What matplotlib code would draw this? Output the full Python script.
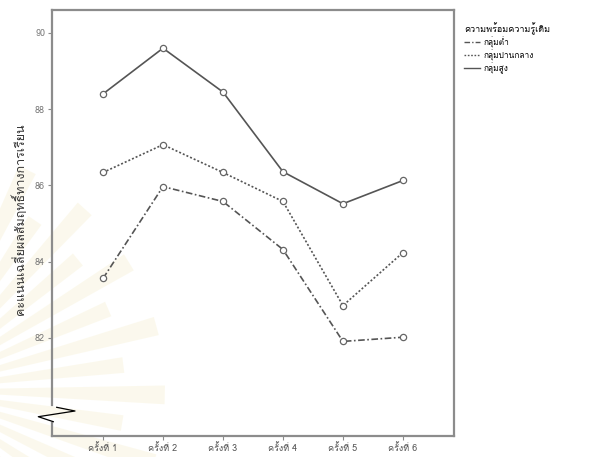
import matplotlib
matplotlib.use('Agg')
import matplotlib.pyplot as plt
import numpy as np
from matplotlib import font_manager
from matplotlib.lines import Line2D
from matplotlib.patches import Polygon
from fontTools.ttLib import TTFont

# Sessions (x axis) and mean scores per readiness group
sessions = ['ครั้งที่ 1', 'ครั้งที่ 2', 'ครั้งที่ 3', 'ครั้งที่ 4', 'ครั้งที่ 5', 'ครั้งที่ 6']
low_group = [83.56, 85.97, 85.58, 84.32, 81.91, 82.02]
mid_group = [86.34, 87.07, 86.34, 85.58, 82.85, 84.24]
high_group = [88.40, 89.60, 88.45, 86.36, 85.52, 86.13]
group_names = ['กลุ่มต่ำ', 'กลุ่มปานกลาง', 'กลุ่มสูง']
y_ticks = [82, 84, 86, 88, 90]


def find_thai_font():
    """Looks through installed fonts for one that has Thai glyphs"""
    names = []
    for f in font_manager.fontManager.ttflist:
        try:
            font = TTFont(f.fname, fontNumber=0, lazy=True)
            cmap = font.getBestCmap()
            if cmap and 0x0E01 in cmap and 0x0E2A in cmap:
                names.append(f.name)
        except Exception:
            pass
    return names


thai_fonts = find_thai_font()
plt.rcParams['font.family'] = thai_fonts[:1] + ['DejaVu Sans']

line_col = '#555555'
spine_col = '#8c8c8c'
W, H = 599, 457

fig = plt.figure(figsize=(5.99, 4.57), dpi=100)

# faint watermark rays in the lower left (background decoration)
cx, cy = -80, 390
for i, ang in enumerate(np.linspace(-50, 64, 15)):
    a = np.radians(ang)
    length = 245 if i % 2 == 0 else 205
    half = np.radians(2.2)
    pts = [(cx, cy),
           (cx + length * np.cos(a - half), cy - length * np.sin(a - half)),
           (cx + length * np.cos(a + half), cy - length * np.sin(a + half))]
    pts = [(px / W, 1 - py / H) for px, py in pts]
    fig.add_artist(Polygon(pts, closed=True, transform=fig.transFigure,
                           facecolor='#f4ebc4', edgecolor='none', alpha=0.3, zorder=0))

ax = fig.add_axes([0.0868, 0.046, 0.671, 0.932])
ax.patch.set_alpha(0)

x = list(range(1, len(sessions) + 1))
styles = [(0, (4, 1.5, 1, 1.5)), (0, (1.2, 1.2)), '-']
for vals, ls, name in zip([low_group, mid_group, high_group], styles, group_names):
    ax.plot(x, vals, color=line_col, linestyle=ls, linewidth=1.2, marker='o',
            markersize=4.5, markerfacecolor='white', markeredgecolor='#666666',
            markeredgewidth=0.9, label=name)

ax.set_xlim(0.15, 6.85)
ax.set_ylim(79.43, 90.6)
ax.set_xticks(x)
ax.set_xticklabels(sessions, fontsize=6.5, color='#555555')
ax.set_yticks(y_ticks)
ax.set_yticklabels([str(v) for v in y_ticks], fontsize=6.5, color='#777777')
ax.tick_params(axis='both', length=3, width=0.8, color=spine_col, pad=2)
ax.set_ylabel('คะแนนเฉลี่ยผลสัมฤทธิ์ทางการเรียน', fontsize=9, color='#333333')
ax.yaxis.set_label_coords(-0.062, 0.51)

for side in ['top', 'right', 'bottom']:
    ax.spines[side].set_color(spine_col)
    ax.spines[side].set_linewidth(1.6)
ax.spines['left'].set_visible(False)

# left axis drawn in two pieces with a gap for the break symbol
ax.add_line(Line2D([0, 0], [0, 0.0305], transform=ax.transAxes, color=spine_col,
                   linewidth=1.6, clip_on=False))
ax.add_line(Line2D([0, 0], [0.0728, 1], transform=ax.transAxes, color=spine_col,
                   linewidth=1.6, clip_on=False))
# zig-zag axis break mark (figure pixel fractions)
bx = [56.7 / W, 75 / W, 38.3 / W, 53.3 / W]
by = [1 - 407.3 / H, 1 - 411 / H, 1 - 416.7 / H, 1 - 421.7 / H]
fig.add_artist(Line2D(bx, by, transform=fig.transFigure, color='black', linewidth=0.9))

leg = ax.legend(loc='upper left', bbox_to_anchor=(1.01, 0.985), frameon=False,
                title='ความพร้อมความรู้เดิม', fontsize=6, title_fontsize=6.5,
                handlelength=2.0, handletextpad=0.4, labelspacing=0.2,
                borderaxespad=0.3)
leg._legend_box.align = 'left'
for h in leg.legend_handles:
    h.set_marker('')
    h.set_linewidth(1.0)

fig.savefig('out.png', dpi=100)
